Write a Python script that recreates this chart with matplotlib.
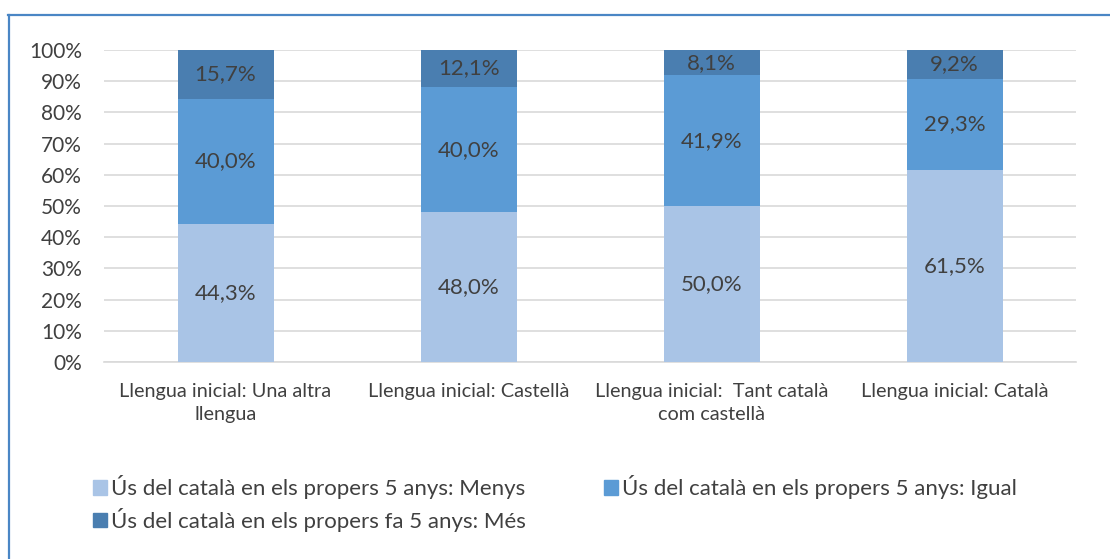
import numpy as np
import matplotlib.pyplot as plt
from matplotlib.lines import Line2D
from matplotlib.patches import Patch

plt.rcParams['font.family'] = ['Lato', 'DejaVu Sans']

# percentages per initial language group
categories = ['Llengua inicial: Una altra\nllengua',
              'Llengua inicial: Castellà',
              'Llengua inicial:  Tant català\ncom castellà',
              'Llengua inicial: Català']
menys = [44.3, 48.0, 50.0, 61.5]
igual = [40.0, 40.0, 41.9, 29.3]
mes = [15.7, 12.1, 8.1, 9.2]

series_names = ['Ús del català en els propers 5 anys: Menys',
                'Ús del català en els propers 5 anys: Igual',
                'Ús del català en els propers fa 5 anys: Més']
colors = ['#A9C4E6', '#5B9BD5', '#4A7EB0']
text_col = '#404040'

fig = plt.figure(figsize=(11.1, 5.59), dpi=100)
ax = fig.add_axes([0.0937, 0.3524, 0.8757, 0.5582])

x = np.arange(len(categories))
width = 0.395
bottom = np.zeros(len(categories))
for vals, col in zip([menys, igual, mes], colors):
    vals = np.array(vals)
    ax.bar(x, vals, width, bottom=bottom, color=col, zorder=3)
    for xi, b, v in zip(x, bottom, vals):
        ax.text(xi, b + v / 2, f'{v:.1f}%'.replace('.', ','),
                ha='center', va='center', fontsize=16, color=text_col, zorder=4)
    bottom += vals

ax.set_xlim(-0.5, 3.5)
ax.set_ylim(0, 100)
ax.set_yticks(np.arange(0, 101, 10))
ax.set_yticklabels([f'{t}%' for t in range(0, 101, 10)])
ax.set_xticks(x)
ax.set_xticklabels(categories, linespacing=1.45)
ax.tick_params(axis='y', length=0, labelsize=15, colors=text_col, pad=16)
ax.tick_params(axis='x', length=0, labelsize=14.3, colors=text_col, pad=15)
ax.grid(axis='y', color='#D9D9D9', linewidth=1.2, zorder=0)
for s in ['top', 'right', 'left']:
    ax.spines[s].set_visible(False)
ax.spines['bottom'].set_color('#D9D9D9')
ax.spines['bottom'].set_linewidth(1.2)

# legend filled column-wise, so order gives rows: Menys | Igual, then Més
handles = [Patch(color=c) for c in colors]
order = [0, 2, 1]
fig.legend([handles[i] for i in order], [series_names[i] for i in order],
           loc='upper left', bbox_to_anchor=(0.0838, 0.150), ncol=2,
           frameon=False, fontsize=16, handlelength=0.62, handleheight=0.62,
           handletextpad=0.2, columnspacing=3.5, labelspacing=0.4,
           borderpad=0, borderaxespad=0, labelcolor=text_col)

# outer frame (left and top edges)
W, H = 1110, 559
fig.add_artist(Line2D([8.5 / W, 8.5 / W], [0, 1 - 15 / H], color='#4A86C5', lw=1.6,
                      transform=fig.transFigure))
fig.add_artist(Line2D([8 / W, 1], [1 - 15 / H, 1 - 15 / H], color='#4A86C5', lw=1.6,
                      transform=fig.transFigure))

fig.savefig('out.png', dpi=100)
